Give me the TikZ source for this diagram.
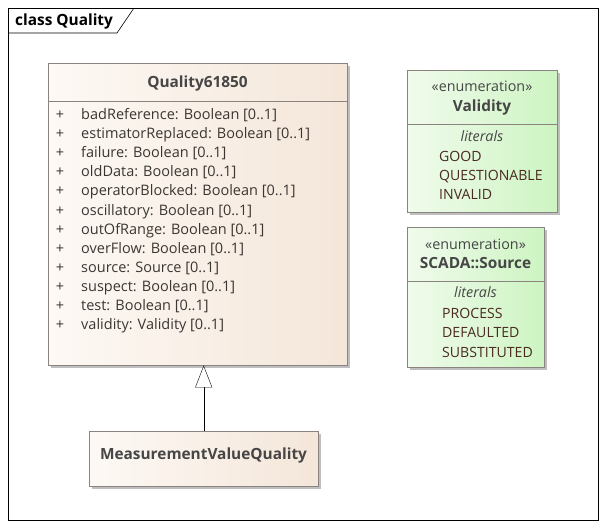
\documentclass[tikz,border=0pt]{standalone}
\usepackage{fontspec}
\setmainfont{Open Sans}
\usetikzlibrary{positioning,arrows.meta,shadows,calc}
\definecolor{umlline}{HTML}{8A8380}
\definecolor{clsleft}{HTML}{FDF9F5}
\definecolor{clsright}{HTML}{F4E6D9}
\definecolor{enumleft}{HTML}{F0FBEC}
\definecolor{enumright}{HTML}{CDF4C2}
\definecolor{titlegray}{HTML}{464646}
\definecolor{attrtext}{HTML}{3C3632}
\definecolor{littext}{HTML}{4A2A20}
\tikzset{
classbox/.style={
draw=umlline,
anchor=north west,
inner sep=0pt,
left color=clsleft,
right color=clsright,
drop shadow={shadow xshift=2.5pt,shadow yshift=-2.5pt,opacity=.25,fill=black}
},
enumbox/.style={
classbox,
left color=enumleft,
right color=enumright
},
title/.style={
font=\bfseries\fontsize{15.4}{18}\selectfont,
text=titlegray,
anchor=base,
inner sep=0pt
},
stereo/.style={
font=\fontsize{14.3}{17}\selectfont,
text=titlegray,
anchor=base,
inner sep=0pt
},
attr/.style={
font=\fontsize{14.5}{17}\selectfont,
text=attrtext,
anchor=base west,
inner sep=0pt
},
literal/.style={
attr,
font=\fontsize{14.1}{17}\selectfont,
text=littext
},
generalize/.style={
-{Triangle[open,fill=white,length=22pt,width=17pt]},
thin
}
}

\begin{document}
\begin{tikzpicture}[x=1pt,y=-1pt]
\useasboundingbox (0,0) rectangle (607,529);
% diagram frame
\draw[semithick] (8,8) rectangle (598,520);
\draw[semithick] (8,33) -- (117,33) -- (134,8);
\node[title,text=black,anchor=base west] (frame) at (15,26) {class Quality};

% Quality61850
\node[classbox,minimum width=299pt,minimum height=302pt] (q) at (48,63) {};
\draw[umlline] ($(q.north west)+(0,38)$) -- ($(q.north east)+(0,38)$);
\node[title] (qname) at (197.5,88) {Quality61850};
\foreach \a [count=\i from 0] in {badReference: Boolean [0..1],estimatorReplaced: Boolean [0..1],failure: Boolean [0..1],oldData: Boolean [0..1],operatorBlocked: Boolean [0..1],oscillatory: Boolean [0..1],outOfRange: Boolean [0..1],overFlow: Boolean [0..1],source: Source [0..1],suspect: Boolean [0..1],test: Boolean [0..1],validity: Validity [0..1]}{
\node[attr,anchor=base] (p\i) at (60,120+19*\i) {+};
\node[attr] (a\i) at (81,120+19*\i) {\a};
}

% Validity
\node[enumbox,minimum width=150pt,minimum height=142pt] (val) at (407,70) {};
\draw[umlline] ($(val.north west)+(0,54)$) -- ($(val.north east)+(0,54)$);
\node[stereo] (vst) at (482,92) {«enumeration»};
\node[title] (vname) at (482,112) {Validity};
\node[stereo,font=\itshape\fontsize{14.3}{17}\selectfont] (vlit) at (482,142) {literals};
\foreach \l [count=\i from 0] in {GOOD,QUESTIONABLE,INVALID}
\node[literal] (v\i) at (439,162+19*\i) {\l};

% SCADA::Source
\node[enumbox,minimum width=137pt,minimum height=140pt] (src) at (407,227) {};
\draw[umlline] ($(src.north west)+(0,54)$) -- ($(src.north east)+(0,54)$);
\node[stereo] (sst) at (475.5,249) {«enumeration»};
\node[title] (sname) at (475.5,268) {SCADA::Source};
\node[stereo,font=\itshape\fontsize{14.3}{17}\selectfont] (slit) at (475.5,297) {literals};
\foreach \l [count=\i from 0] in {PROCESS,DEFAULTED,SUBSTITUTED}
\node[literal] (s\i) at (442,318+19.5*\i) {\l};

% MeasurementValueQuality
\node[classbox,minimum width=229pt,minimum height=55pt] (mvq) at (89,431) {};
\node[title] (mname) at (203.5,459) {MeasurementValueQuality};

\draw[generalize] (mvq.north) -- (mvq.north |- q.south);
\end{tikzpicture}
\end{document}
